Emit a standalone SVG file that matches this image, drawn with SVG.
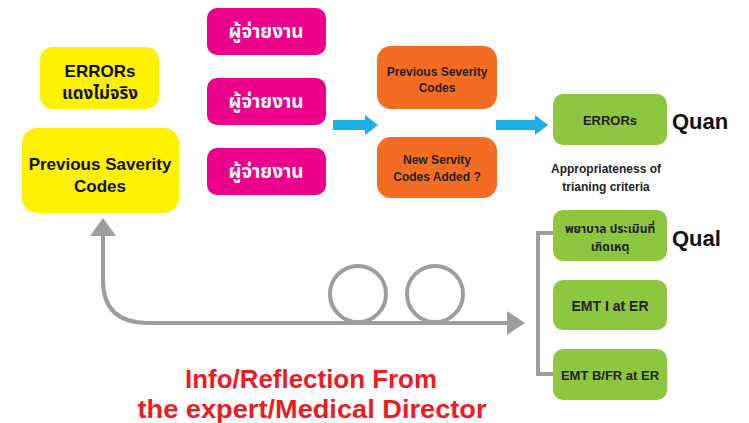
<svg xmlns="http://www.w3.org/2000/svg" width="749" height="423" viewBox="0 0 749 423">
  <style>
    .t { font-family: "Liberation Sans", "Noto Sans Thai", "Noto Sans", "DejaVu Sans", sans-serif; font-weight: bold; text-anchor: middle; }
    .yellow { fill: #FFF200; }
    .pink { fill: #EC008C; }
    .orange { fill: #F36C21; }
    .green { fill: #8DC63F; }
    .blue { fill: #1DAEE8; }
    .grey { fill: none; stroke: #9D9D9F; stroke-width: 4; }
    .greyfill { fill: #9D9D9F; }
  </style>
  <rect width="749" height="423" fill="#FFFFFF"/>

  <g id="errors-false-red">
    <rect class="yellow" x="40" y="47" width="119" height="62" rx="13"/>
    <text class="t" x="100" y="77" font-size="17" fill="#111">ERRORs</text>
    <text class="t" x="100" y="99" font-size="17" fill="#111">แดงไม่จริง</text>
  </g>
  <g id="previous-saverity">
    <rect class="yellow" x="22" y="128" width="157" height="85" rx="15"/>
    <text class="t" x="100" y="170" font-size="17" fill="#111">Previous Saverity</text>
    <text class="t" x="100" y="192" font-size="17" fill="#111">Codes</text>
  </g>

  <g id="reporter-1">
    <rect class="pink" x="207" y="8" width="119" height="47" rx="10"/>
    <text class="t" x="266" y="38" font-size="19" fill="#FFFFFF">ผู้จ่ายงาน</text>
  </g>
  <g id="reporter-2">
    <rect class="pink" x="207" y="78" width="119" height="47" rx="10"/>
    <text class="t" x="266" y="108" font-size="19" fill="#FFFFFF">ผู้จ่ายงาน</text>
  </g>
  <g id="reporter-3">
    <rect class="pink" x="207" y="148" width="119" height="47" rx="10"/>
    <text class="t" x="266" y="178" font-size="19" fill="#FFFFFF">ผู้จ่ายงาน</text>
  </g>

  <g id="prev-severity">
    <rect class="orange" x="377" y="46" width="120" height="63" rx="14"/>
    <text class="t" x="437" y="76" font-size="12" fill="#222">Previous Severity</text>
    <text class="t" x="437" y="92" font-size="12" fill="#222">Codes</text>
  </g>
  <g id="new-severity">
    <rect class="orange" x="377" y="137" width="120" height="61" rx="14"/>
    <text class="t" x="437" y="164" font-size="12" fill="#222">New Servity</text>
    <text class="t" x="437" y="181" font-size="12" fill="#222">Codes Added ?</text>
  </g>

  <g id="errors">
    <rect class="green" x="553" y="94" width="114" height="51" rx="10"/>
    <text class="t" x="610" y="125" font-size="13" fill="#222">ERRORs</text>
  </g>
  <g id="nurse">
    <rect class="green" x="553" y="210" width="114" height="51" rx="10"/>
    <text class="t" x="610" y="233" font-size="12" fill="#222">พยาบาล ประเมินที่</text>
    <text class="t" x="610" y="251" font-size="12" fill="#222">เกิดเหตุ</text>
  </g>
  <g id="emt-i">
    <rect class="green" x="553" y="280" width="114" height="50" rx="10"/>
    <text class="t" x="610" y="311" font-size="14" fill="#222">EMT I at ER</text>
  </g>
  <g id="emt-b">
    <rect class="green" x="553" y="349" width="114" height="51" rx="10"/>
    <text class="t" x="610" y="380" font-size="13" fill="#222">EMT B/FR at ER</text>
  </g>

  <g id="labels">
    <text class="t" x="672" y="129" font-size="22" fill="#111" style="text-anchor:start">Quan</text>
    <text class="t" x="672" y="246" font-size="22" fill="#111" style="text-anchor:start">Qual</text>
    <text class="t" x="606" y="173" font-size="12" fill="#222">Appropriateness of</text>
    <text class="t" x="606" y="191" font-size="12" fill="#222">trianing criteria</text>
    <text class="t" x="311" y="388" font-size="25" fill="#ED1C24" textLength="252" lengthAdjust="spacingAndGlyphs">Info/Reflection From</text>
    <text class="t" x="312" y="418" font-size="25" fill="#ED1C24" textLength="349" lengthAdjust="spacingAndGlyphs">the expert/Medical Director</text>
  </g>

  <g id="connectors">
    <!-- blue block arrows -->
    <polygon class="blue" points="333,120 365,120 365,115 378,125 365,135 365,130 333,130"/>
    <polygon class="blue" points="496,120 535,120 535,115 548,125 535,135 535,130 496,130"/>
    <!-- feedback loop -->
    <path class="grey" d="M103,234 L103,280 Q103,323 148,323 L509,323"/>
    <polygon class="greyfill" points="90,236 103,218 116,236"/>
    <polygon class="greyfill" points="507,311 525,323 507,335"/>
    <circle class="grey" cx="358" cy="294" r="28"/>
    <circle class="grey" cx="435" cy="294" r="28"/>
    <!-- bracket -->
    <path class="grey" d="M553,233 L538,233 L538,374 L553,374" stroke-width="3.5"/>
  </g>
</svg>
